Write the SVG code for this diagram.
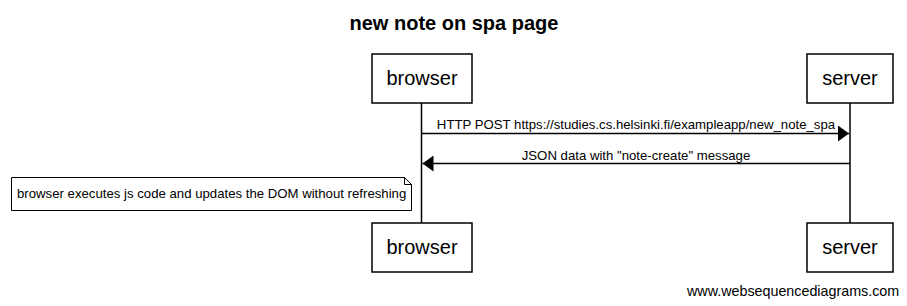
<svg xmlns="http://www.w3.org/2000/svg" width="907" height="306" viewBox="0 0 907 306">
  <style>
    text { font-family: "Liberation Sans", Arial, sans-serif; fill: #000; }
    .title { font-size: 20px; font-weight: bold; text-anchor: middle; }
    .actor rect { fill: #fff; stroke: #000; stroke-width: 1.5; }
    .actor text { font-size: 20px; text-anchor: middle; }
    .life { stroke: #000; stroke-width: 1.5; }
    .msg line { stroke: #000; stroke-width: 1.5; }
    .msg text { font-size: 13.2px; text-anchor: middle; }
    .note path { fill: #fff; stroke: #000; stroke-width: 1; }
    .note text { font-size: 13.2px; }
    .mark { font-size: 14.3px; }
  </style>
  <defs>
    <marker id="head" markerWidth="12" markerHeight="16" refX="11" refY="8" orient="auto" markerUnits="userSpaceOnUse">
      <path d="M0,0 L11,8 L0,16 Z" fill="#000"/>
    </marker>
  </defs>
  <rect width="907" height="306" fill="#fff"/>
  <text class="title" x="454" y="30">new note on spa page</text>

  <g id="lifelines">
    <line class="life" x1="421.5" y1="103" x2="421.5" y2="223"/>
    <line class="life" x1="850" y1="103" x2="850" y2="223"/>
  </g>

  <g id="browser-top" class="actor">
    <rect x="372" y="54" width="100" height="49"/>
    <text x="422" y="85">browser</text>
  </g>
  <g id="server-top" class="actor">
    <rect x="807" y="54" width="86" height="49"/>
    <text x="850" y="85">server</text>
  </g>
  <g id="browser-bottom" class="actor">
    <rect x="372" y="223" width="100" height="49"/>
    <text x="422" y="254">browser</text>
  </g>
  <g id="server-bottom" class="actor">
    <rect x="807" y="223" width="86" height="49"/>
    <text x="850" y="254">server</text>
  </g>

  <g id="connectors" class="msg">
    <line x1="421.5" y1="133.5" x2="849" y2="133.5" marker-end="url(#head)"/>
    <text x="636" y="129">HTTP POST https://studies.cs.helsinki.fi/exampleapp/new_note_spa</text>
    <line x1="850" y1="163.5" x2="422.5" y2="163.5" marker-end="url(#head)"/>
    <text x="636" y="160">JSON data with "note-create" message</text>
  </g>

  <g id="note" class="note">
    <path d="M11.5,177.5 H404.5 L411.5,184.5 V210.5 H11.5 Z M404.5,177.5 V184.5 H411.5"/>
    <text x="17" y="198">browser executes js code and updates the DOM without refreshing</text>
  </g>

  <text class="mark" x="687" y="296">www.websequencediagrams.com</text>
</svg>
